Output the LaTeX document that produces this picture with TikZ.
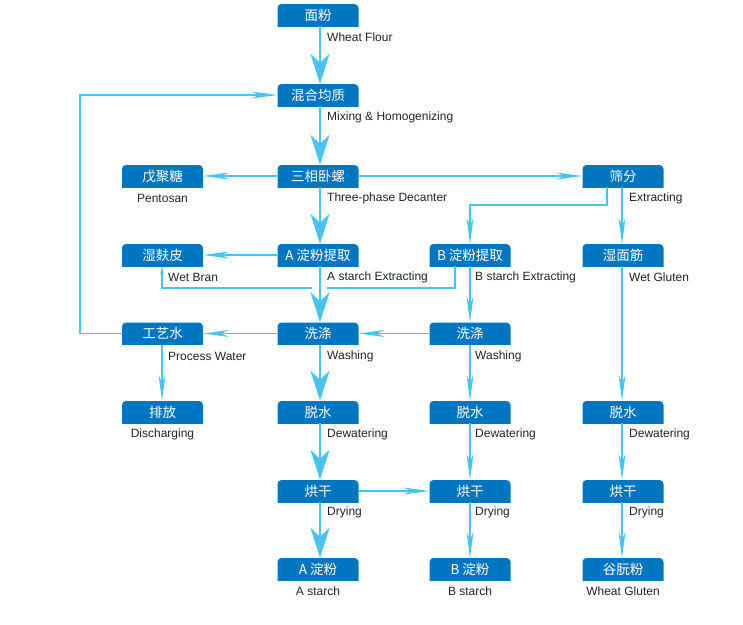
\documentclass[tikz,border=0pt]{standalone}
\usepackage{fontspec}
\setmainfont{Liberation Sans}
\newfontfamily\cjk{Noto Sans CJK SC}
\usetikzlibrary{arrows.meta,positioning,calc}
\definecolor{boxblue}{RGB}{0,118,192}
\definecolor{flowblue}{RGB}{72,196,240}
\definecolor{txtgray}{RGB}{35,35,35}
\tikzset{
  proc/.style={minimum width=81pt, minimum height=22pt, inner sep=0pt, text=white,
    font=\cjk\fontsize{13.5}{15}\selectfont,
    path picture={\fill[boxblue,rounded corners=4pt]
      ([yshift=-6pt]path picture bounding box.south west) rectangle (path picture bounding box.north east);}},
  lbl/.style={text=txtgray, font=\fontsize{12}{14}\selectfont, inner sep=0pt},
  bigflow/.style={draw=flowblue, line width=2.4pt, -{Stealth[length=30pt,width=19pt,inset=9pt]}},
  flow/.style={draw=flowblue, line width=1.2pt, -{Stealth[length=26pt,width=7pt,inset=8pt]}},
  smallflow/.style={draw=flowblue, line width=1.2pt, -{Stealth[length=8pt,width=3.5pt,inset=2pt]}},
  plain/.style={draw=flowblue, line width=1.2pt}
}
\begin{document}
\begin{tikzpicture}[x=1pt,y=-1pt]
\useasboundingbox (0,0) rectangle (743,624);

% main column
\node[proc] (m1) at (318,15) {面粉};
\node[proc] (m2) at (318,95) {混合均质};
\node[proc] (m3) at (318,176) {三相卧螺};
\node[proc] (m4) at (318,255) {A 淀粉提取};
\node[proc] (m5) at (318,333.5) {洗涤};
\node[proc] (m6) at (318,412) {脱水};
\node[proc] (m7) at (318,491) {烘干};
\node[proc] (m8) at (318,569) {A 淀粉};
% left column
\node[proc] (pn) at (162.5,176) {戊聚糖};
\node[proc] (wb) at (162.5,255) {湿麸皮};
\node[proc] (pw) at (162.5,333.5) {工艺水};
\node[proc] (dc) at (162.5,412) {排放};
% B column
\node[proc] (b1) at (470,255) {B 淀粉提取};
\node[proc] (b2) at (470,333.5) {洗涤};
\node[proc] (b3) at (470,412) {脱水};
\node[proc] (b4) at (470,491) {烘干};
\node[proc] (b5) at (470,569) {B 淀粉};
% right column
\node[proc] (sv) at (623,176) {筛分};
\node[proc] (g1) at (623,255) {湿面筋};
\node[proc] (g2) at (623,412) {脱水};
\node[proc] (g3) at (623,491) {烘干};
\node[proc] (g4) at (623,569) {谷朊粉};

% labels
\node[lbl,anchor=west] (lm1) at (327,37) {Wheat Flour};
\node[lbl,anchor=west] (lm2) at (327,117) {Mixing \& Homogenizing};
\node[lbl,anchor=west] (lm3) at (327,198) {Three-phase Decanter};
\node[lbl,anchor=west] (lm4) at (327,277) {A starch Extracting};
\node[lbl,anchor=west] (lm5) at (327,356) {Washing};
\node[lbl,anchor=west] (lm6) at (327,434) {Dewatering};
\node[lbl,anchor=west] (lm7) at (327,512) {Drying};
\node[lbl] (lm8) at (318,591) {A starch};
\node[lbl] (lpn) at (162.5,198) {Pentosan};
\node[lbl,anchor=west] (lwb) at (168,277) {Wet Bran};
\node[lbl,anchor=west] (lpw) at (168,356) {Process Water};
\node[lbl] (ldc) at (162.5,434) {Discharging};
\node[lbl,anchor=west] (lb1) at (475,277) {B starch Extracting};
\node[lbl,anchor=west] (lb2) at (475,356) {Washing};
\node[lbl,anchor=west] (lb3) at (475,434) {Dewatering};
\node[lbl,anchor=west] (lb4) at (475,512) {Drying};
\node[lbl] (lb5) at (470,591) {B starch};
\node[lbl,anchor=west] (lsv) at (629,198) {Extracting};
\node[lbl,anchor=west] (lg1) at (629,277) {Wet Gluten};
\node[lbl,anchor=west] (lg2) at (629,434) {Dewatering};
\node[lbl,anchor=west] (lg3) at (629,512) {Drying};
\node[lbl] (lg4) at (623,591) {Wheat Gluten};

% coordinates for bends
\coordinate (lp) at (80,95);
\coordinate (sj) at (607,205);
\coordinate (wbj) at (162,288);
\coordinate (wbe) at (312,288);
\coordinate (bj) at (455,288);
\coordinate (be) at (327,288);

% main flow
\draw[bigflow] ([xshift=2pt]m1.south) -- ([xshift=2pt]m2.north);
\draw[bigflow] ([xshift=2pt]m2.south) -- ([xshift=2pt]m3.north);
\draw[bigflow] ([xshift=2pt]m3.south) -- ([xshift=2pt]m4.north);
\draw[bigflow] ([xshift=2pt]m4.south) -- ([xshift=2pt]m5.north);
\draw[bigflow] ([xshift=2pt]m5.south) -- ([xshift=2pt]m6.north);
\draw[bigflow] ([xshift=2pt]m6.south) -- ([xshift=2pt]m7.north);
\draw[bigflow] ([xshift=2pt]m7.south) -- ([xshift=2pt]m8.north);

% side flows
\draw[flow] (m3.west) -- (pn.east);
\draw[flow] (m3.east) -- (sv.west);
\draw[flow] (sv.south -| sj) -- (sj) -| (b1.north);
\draw[flow] ([xshift=-1pt]sv.south) -- ([xshift=-1pt]g1.north);
\draw[flow] (m4.west) -- (wb.east);
\draw[smallflow] (wbe) -- (wbj) -- (wb.south -| wbj);
\draw[plain] (b1.south -| bj) -- (bj) -- (be);
\draw[flow] (b1.south) -- (b2.north);
\draw[flow] (b2.west) -- (m5.east);
\draw[flow] (m5.west) -- (pw.east);
\draw[flow] (pw.west) -| (lp) -- (m2.west);
\draw[flow] (pw.south -| wbj) -- (dc.north -| wbj);
\draw[flow] (b2.south) -- (b3.north);
\draw[flow] (b3.south) -- (b4.north);
\draw[flow] (b4.south) -- (b5.north);
\draw[flow] (m7.east) -- (b4.west);
\draw[flow] ([xshift=-1pt]g1.south) -- ([xshift=-1pt]g2.north);
\draw[flow] ([xshift=-1pt]g2.south) -- ([xshift=-1pt]g3.north);
\draw[flow] ([xshift=-1pt]g3.south) -- ([xshift=-1pt]g4.north);
\end{tikzpicture}
\end{document}
